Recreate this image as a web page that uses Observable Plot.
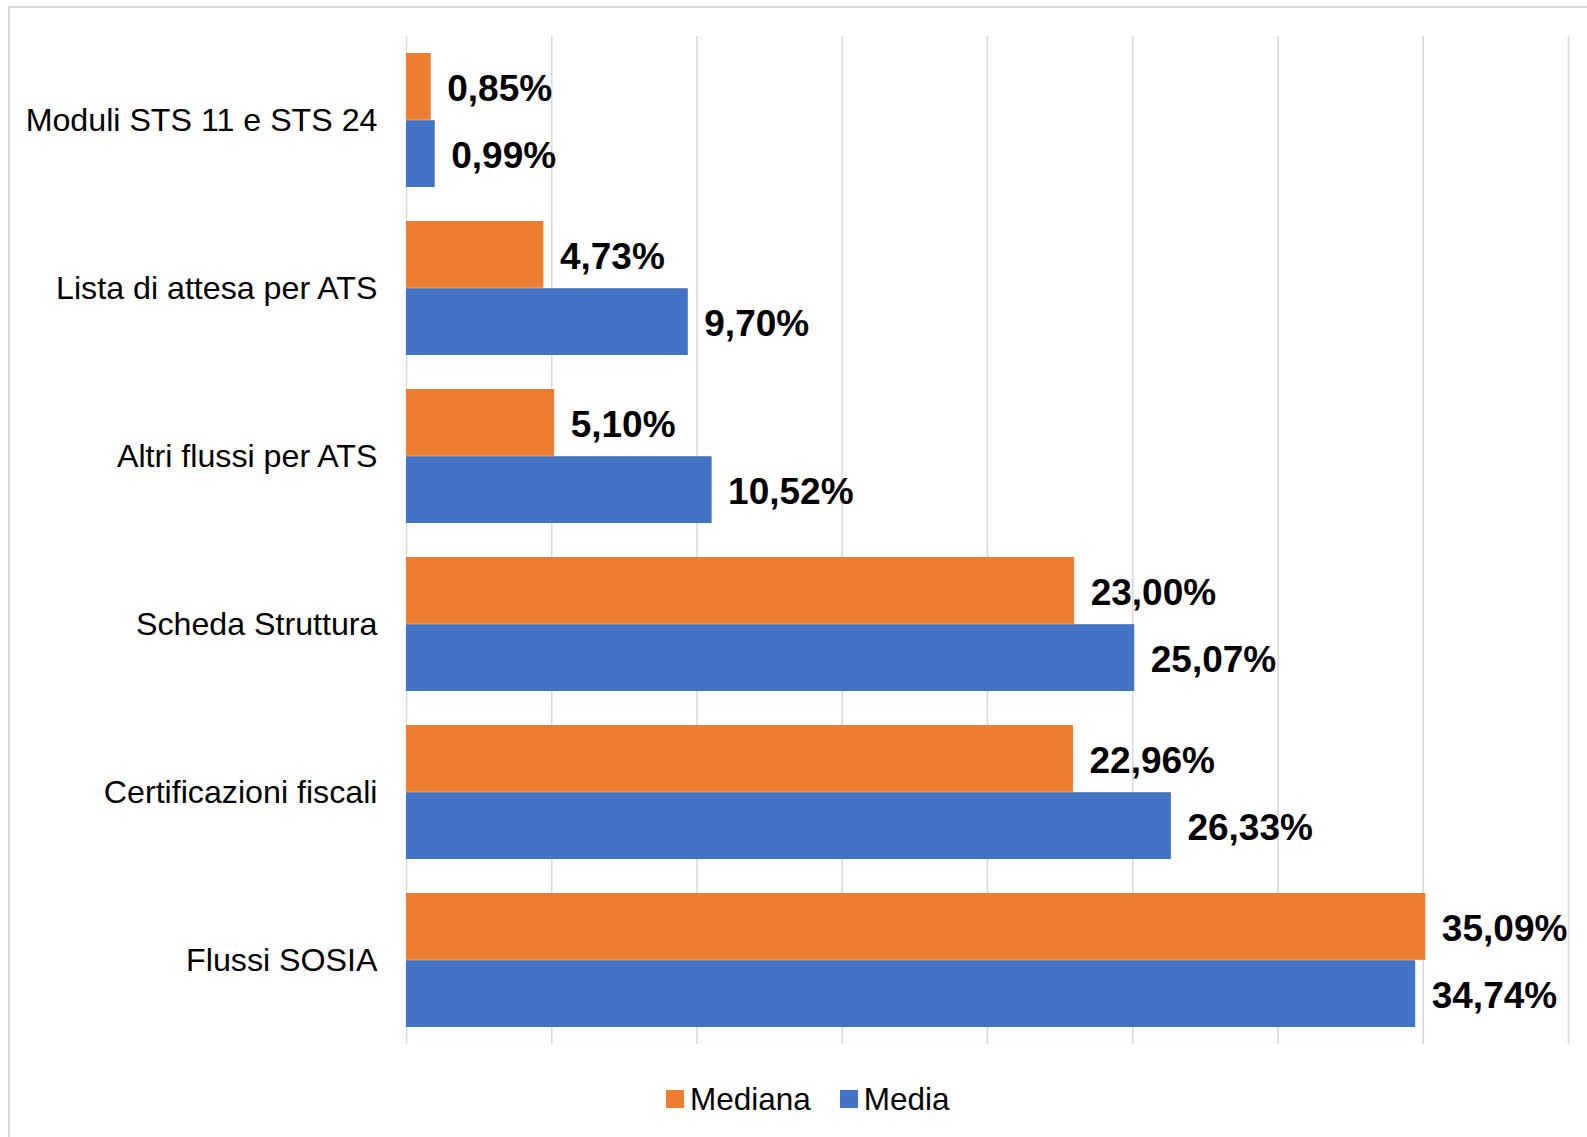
<!DOCTYPE html>
<html>
<head>
<meta charset="utf-8">
<script src="https://cdn.jsdelivr.net/npm/d3@7"></script>
<script src="https://cdn.jsdelivr.net/npm/@observablehq/plot@0.6"></script>
<style>
  html, body { margin: 0; padding: 0; background: #fff; overflow: hidden; }
  body { width: 1587px; height: 1137px; position: relative; font-family: "Liberation Sans", Arial, Helvetica, sans-serif; }
  #frame { position: absolute; left: 8px; top: 6px; width: 1700px; height: 1300px; border: 2px solid #d9d9d9; box-sizing: border-box; z-index: 0; }
  #chart { position: absolute; left: 0; top: 0; z-index: 1; }
  #legend { position: absolute; left: 666px; top: 1078px; height: 42px; display: flex; align-items: center; font-size: 31.5px; color: #000; z-index: 2; }
  #legend .sw { width: 18px; height: 18px; margin-right: 6px; }
  #legend .item { display: flex; align-items: center; margin-right: 29px; }
</style>
</head>
<body>
<div id="frame"></div>
<div id="chart"></div>
<div id="legend"></div>
<script>
const categories = ["Moduli STS 11 e STS 24", "Lista di attesa per ATS", "Altri flussi per ATS", "Scheda Struttura", "Certificazioni fiscali", "Flussi SOSIA"];
const mediana = [0.85, 4.73, 5.10, 23.00, 22.96, 35.09];
const media = [0.99, 9.70, 10.52, 25.07, 26.33, 34.74];
const seriesNames = ["Mediana", "Media"];
const seriesColors = ["#ED7D31", "#4472C4"];
const gridTicks = [0, 5, 10, 15, 20, 25, 30, 35, 40];

const rowsMediana = categories.map((c, i) => ({category: c, value: mediana[i]}));
const rowsMedia = categories.map((c, i) => ({category: c, value: media[i]}));
const fmt = v => v.toFixed(2).replace(".", ",") + "%";

const width = 1587, height = 1070;
const marginTop = 36, marginBottom = 26, marginLeft = 406, marginRight = 19;
const paddingInner = 0.2, paddingOuter = 0.1;
const step = (height - marginTop - marginBottom) / (categories.length - paddingInner + 2 * paddingOuter);
const half = step * (1 - paddingInner) / 2;

const chart = Plot.plot({
  width, height, marginTop, marginBottom, marginLeft, marginRight,
  style: {fontFamily: "'Liberation Sans', Arial, Helvetica, sans-serif", fontSize: "32.2px", color: "#000", background: "transparent"},
  x: {domain: [0, 40], axis: null},
  y: {domain: categories, paddingInner, paddingOuter, tickSize: 0, tickPadding: 29, label: null},
  marks: [
    Plot.ruleX(gridTicks, {stroke: "#d9d9d9", strokeWidth: 1.6}),
    Plot.barX(rowsMediana, {x: "value", y: "category", fill: seriesColors[0], insetBottom: half}),
    Plot.barX(rowsMedia, {x: "value", y: "category", fill: seriesColors[1], insetTop: half}),
    Plot.text(rowsMediana, {x: "value", y: "category", text: d => fmt(d.value), textAnchor: "start", lineAnchor: "middle", dx: 16, dy: -half / 2 + 2, fontSize: 37, fontWeight: "bold", fill: "#000"}),
    Plot.text(rowsMedia, {x: "value", y: "category", text: d => fmt(d.value), textAnchor: "start", lineAnchor: "middle", dx: 16, dy: half / 2 + 2, fontSize: 37, fontWeight: "bold", fill: "#000"})
  ]
});
document.getElementById("chart").appendChild(chart);

const legend = document.getElementById("legend");
seriesNames.forEach((name, i) => {
  const item = document.createElement("div");
  item.className = "item";
  const sw = document.createElement("div");
  sw.className = "sw";
  sw.style.background = seriesColors[i];
  const label = document.createElement("span");
  label.textContent = name;
  item.appendChild(sw);
  item.appendChild(label);
  legend.appendChild(item);
});
</script>
</body>
</html>
